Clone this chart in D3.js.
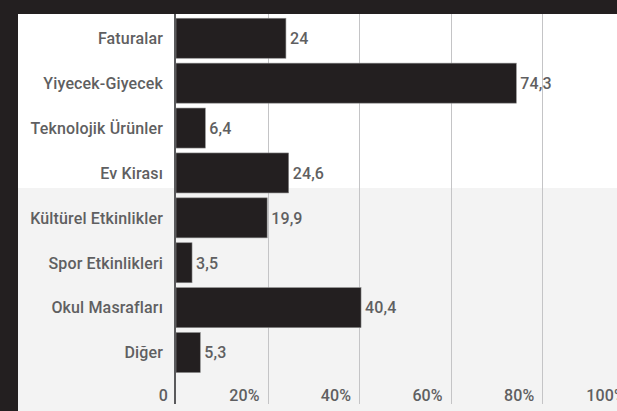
<!DOCTYPE html>
<html><head><meta charset="utf-8">
<script src="https://cdn.jsdelivr.net/npm/d3@7"></script>
<style>
html,body{margin:0;padding:0;background:#231f20;}
svg{display:block;}
text{font-family:Roboto, "Noto Sans", sans-serif;}
</style></head>
<body>
<script>
const categories = ["Faturalar","Yiyecek-Giyecek","Teknolojik Ürünler","Ev Kirası","Kültürel Etkinlikler","Spor Etkinlikleri","Okul Masrafları","Diğer"];
const values = [24, 74.3, 6.4, 24.6, 19.9, 3.5, 40.4, 5.3];
const valueLabels = ["24","74,3","6,4","24,6","19,9","3,5","40,4","5,3"];
const ticks = [0,20,40,60,80,100];
const tickLabels = ["0","20%","40%","60%","80%","100%"];

const W = 617, H = 411;
const svg = d3.select("body").append("svg").attr("width", W).attr("height", H);
svg.append("rect").attr("width", W).attr("height", H).attr("fill", "#231f20");
svg.append("rect").attr("x", 18).attr("y", 14).attr("width", W-18).attr("height", 174).attr("fill", "#ffffff");
svg.append("rect").attr("x", 18).attr("y", 188).attr("width", W-18).attr("height", H-188).attr("fill", "#f3f3f3");

const x = d3.scaleLinear().domain([0,100]).range([176, 634]);
const y = d3.scaleBand().domain(categories).range([15.8, 15.8 + 8*44.9]).paddingInner(4.9/44.9).paddingOuter(2.45/44.9);

const textColor = "#5f5f61";
const fs = 16;
const ls = 0.15;

// gridlines
svg.append("g").selectAll("line").data(ticks.filter(t=>t>0)).join("line")
  .attr("x1", d=>Math.round(x(d))+0.5).attr("x2", d=>Math.round(x(d))+0.5)
  .attr("y1", 14).attr("y2", 404).attr("stroke", "#c4c4c6").attr("stroke-width", 1);

// bars
svg.append("g").selectAll("rect").data(values).join("rect")
  .attr("x", x(0)).attr("y", (d,i)=>y(categories[i]))
  .attr("width", d=>x(d)-x(0)).attr("height", y.bandwidth())
  .attr("fill", "#231f20").attr("stroke", "#8a8a8a").attr("stroke-width", 0.6);

// zero axis
svg.append("line").attr("x1", 175).attr("x2", 175).attr("y1", 14).attr("y2", 404)
  .attr("stroke", "#5a5a5c").attr("stroke-width", 2);

// category labels
svg.append("g").selectAll("text").data(categories).join("text")
  .attr("x", 163).attr("y", d=>y(d)+y.bandwidth()/2).attr("dy", "0.36em")
  .attr("text-anchor", "end").attr("fill", textColor).attr("font-size", fs).attr("font-weight", 500)
  .attr("letter-spacing", ls)
  .text(d=>d);

// value labels
svg.append("g").selectAll("text").data(values).join("text")
  .attr("x", d=>x(d)+4).attr("y", (d,i)=>y(categories[i])+y.bandwidth()/2).attr("dy", "0.36em")
  .attr("text-anchor", "start").attr("fill", textColor).attr("font-size", fs).attr("font-weight", 500)
  .attr("letter-spacing", ls)
  .text((d,i)=>valueLabels[i]);

// tick labels
svg.append("g").selectAll("text").data(ticks).join("text")
  .attr("x", d=>x(d)-8).attr("y", 401)
  .attr("text-anchor", "end").attr("fill", textColor).attr("font-size", fs).attr("font-weight", 500)
  .attr("letter-spacing", ls)
  .text((d,i)=>tickLabels[i]);
</script>
</body></html>
